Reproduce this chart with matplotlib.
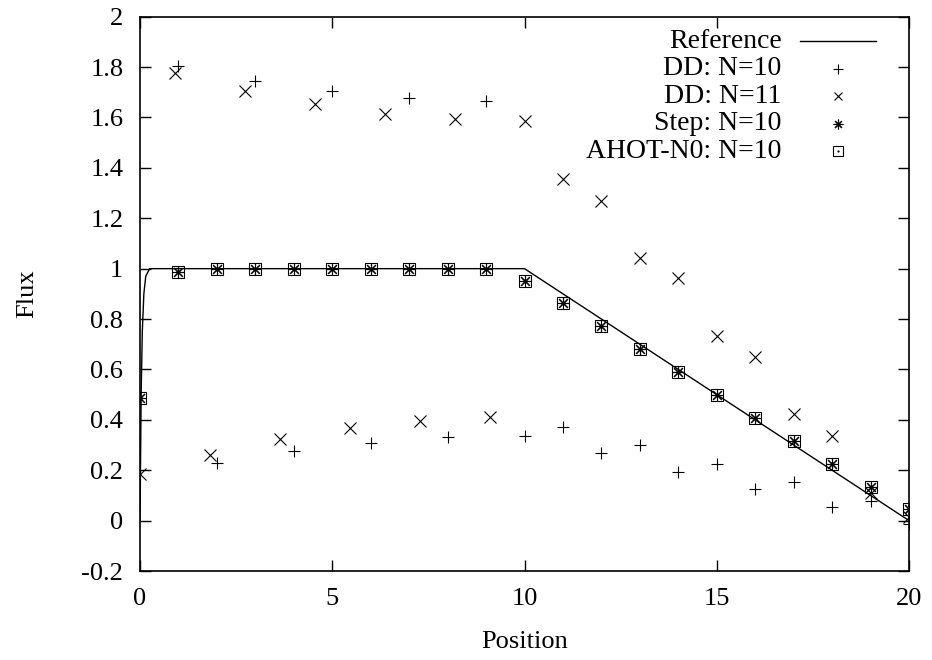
import numpy as np
import matplotlib
matplotlib.use("Agg")
import matplotlib.pyplot as plt

plt.rcParams['font.family'] = ['Liberation Serif', 'DejaVu Serif']
plt.rcParams['font.size'] = 19

# reference solution
ref_x = [0.0, 0.03, 0.06, 0.1, 0.15, 0.25, 10.0, 20.0]
ref_y = [0.0, 0.5, 0.75, 0.9, 0.97, 1.0, 1.0, 0.0]

# DD: N=10
dd10_x = [1, 2, 3, 4, 5, 6, 7, 8, 9, 10, 11, 12, 13, 14, 15, 16, 17, 18, 19, 20]
dd10_y = [1.804, 0.228, 1.746, 0.277, 1.705, 0.310, 1.677, 0.330, 1.664, 0.337,
          0.372, 0.267, 0.299, 0.194, 0.225, 0.125, 0.152, 0.054, 0.079, -0.013]

# DD: N=11
dd11_x = [0, 0.909, 1.818, 2.727, 3.636, 4.545, 5.455, 6.364, 7.273, 8.182, 9.091, 10,
          11, 12, 13, 14, 15, 16, 17, 18, 19, 20]
dd11_y = [0.184, 1.775, 0.262, 1.705, 0.323, 1.652, 0.368, 1.615, 0.396, 1.594, 0.411, 1.586,
          1.356, 1.270, 1.044, 0.963, 0.732, 0.648, 0.422, 0.335, 0.110, 0.016]

# Step and AHOT-N0: N=10
cell_x = list(range(0, 21))
step_y = [0.488, 0.986, 1.0, 1.0, 1.0, 1.0, 1.0, 1.0, 1.0, 1.0, 0.952,
          0.863, 0.771, 0.681, 0.590, 0.499, 0.408, 0.317, 0.226, 0.135, 0.045]
ahot_y = [0.488, 0.986, 1.0, 1.0, 1.0, 1.0, 1.0, 1.0, 1.0, 1.0, 0.952,
          0.863, 0.771, 0.681, 0.590, 0.499, 0.408, 0.317, 0.226, 0.135, 0.045]

labels = ['Reference', 'DD: N=10', 'DD: N=11', 'Step: N=10', 'AHOT-N0: N=10']

fig = plt.figure(figsize=(9.32, 6.6), dpi=100)
ax = fig.add_axes([140/932, 1-571/660, (909-140)/932, (571-16.7)/660])

ax.plot(ref_x, ref_y, color='black', lw=1.0)
ax.plot(dd10_x, dd10_y, ls='none', marker='+', ms=9, mew=0.8, color='black')
ax.plot(dd11_x, dd11_y, ls='none', marker='x', ms=8, mew=0.8, color='black')
ax.plot(cell_x, step_y, ls='none', marker=(8, 2, 0), ms=9, mew=0.8, color='black')
ax.plot(cell_x, ahot_y, ls='none', marker='s', ms=8, mew=0.8, mfc='none', mec='black')
ax.plot(cell_x, ahot_y, ls='none', marker='o', ms=1.6, mew=0, color='black')

ax.set_xlim(0, 20)
ax.set_ylim(-0.2, 2.0)
ax.set_xticks([0, 5, 10, 15, 20])
ax.set_yticks(np.arange(-0.2, 2.01, 0.2))
ax.set_yticklabels(['-0.2', '0', '0.2', '0.4', '0.6', '0.8', '1', '1.2', '1.4', '1.6', '1.8', '2'])
ax.tick_params(direction='in', length=8, width=1, top=True, right=True, pad=12)
for s in ax.spines.values():
    s.set_linewidth(1.2)

ax.set_xlabel('Position', labelpad=15)
ax.set_ylabel('Flux', labelpad=31)

# gnuplot style key: right-aligned labels, sample to the right
tx, hx0, hx1 = 0.8345, 0.858, 0.957
hmid = (hx0 + hx1) / 2
y0, dy = 0.956, 0.0496
kw = dict(transform=ax.transAxes, clip_on=False, color='black')
for i, lab in enumerate(labels):
    yy = y0 - i * dy
    ax.text(tx, yy, lab, transform=ax.transAxes, ha='right', va='center', fontsize=20)
    if i == 0:
        ax.plot([hx0, hx1], [yy, yy], lw=1.0, **kw)
    elif i == 1:
        ax.plot([hmid], [yy], ls='none', marker='+', ms=7, mew=0.8, **kw)
    elif i == 2:
        ax.plot([hmid], [yy], ls='none', marker='x', ms=6, mew=0.8, **kw)
    elif i == 3:
        ax.plot([hmid], [yy], ls='none', marker=(8, 2, 0), ms=7, mew=0.8, **kw)
    else:
        ax.plot([hmid], [yy], ls='none', marker='s', ms=7, mew=0.8, mfc='none',
                transform=ax.transAxes, clip_on=False, mec='black')
        ax.plot([hmid], [yy], ls='none', marker='o', ms=1.6, mew=0, **kw)

fig.savefig('out.png', dpi=100)
